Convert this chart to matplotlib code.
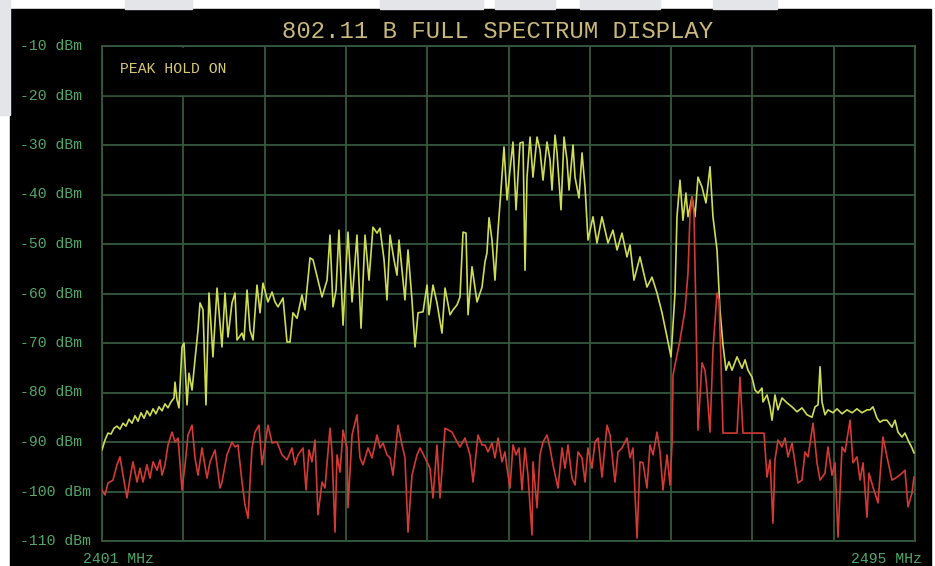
import numpy as np
import matplotlib
matplotlib.use("Agg")
import matplotlib.pyplot as plt
from matplotlib.patches import Rectangle
from matplotlib.transforms import blended_transform_factory

# ---------------- data ----------------
title_text = "802.11 B FULL SPECTRUM DISPLAY"
status_text = "PEAK HOLD ON"
freq_start_mhz = 2401
freq_stop_mhz = 2495
freq_labels = ["2401 MHz", "2495 MHz"]
level_ticks_dbm = [-10, -20, -30, -40, -50, -60, -70, -80, -90, -100, -110]
level_labels = [f"{v} dBm" for v in level_ticks_dbm]

# peak-hold trace (yellow)
peak_freq_mhz = [
    2401.00, 2401.35, 2401.69, 2402.04, 2402.39, 2402.73, 2403.08, 2403.43, 2403.77, 2404.12,
    2404.47, 2404.82, 2405.16, 2405.51, 2405.86, 2406.20, 2406.55, 2406.90, 2407.24, 2407.59,
    2407.94, 2408.28, 2408.63, 2408.98, 2409.32, 2409.44, 2409.67, 2409.90, 2410.25, 2410.48,
    2410.83, 2411.06, 2411.41, 2411.75, 2412.10, 2412.33, 2412.68, 2413.02, 2413.37, 2413.83,
    2414.30, 2414.87, 2415.22, 2415.57, 2416.03, 2416.38, 2416.61, 2417.19, 2417.42, 2417.77,
    2418.11, 2418.46, 2418.92, 2419.27, 2419.61, 2420.19, 2420.66, 2421.00, 2421.35, 2421.93,
    2422.39, 2422.74, 2423.08, 2423.55, 2424.12, 2424.47, 2425.05, 2425.40, 2425.97, 2426.44,
    2427.02, 2427.36, 2427.71, 2428.06, 2428.40, 2428.87, 2429.44, 2429.91, 2430.48, 2430.95,
    2431.41, 2431.87, 2432.33, 2432.80, 2433.14, 2433.61, 2433.95, 2434.30, 2434.76, 2435.11,
    2435.34, 2435.69, 2436.03, 2436.38, 2436.84, 2437.19, 2437.54, 2438.12, 2438.58, 2438.81,
    2439.27, 2439.73, 2440.31, 2440.66, 2441.24, 2441.58, 2442.05, 2442.39, 2442.74, 2443.09,
    2443.32, 2443.78, 2444.36, 2444.94, 2445.28, 2445.51, 2445.75, 2446.09, 2446.44, 2446.79,
    2447.13, 2447.48, 2447.83, 2448.17, 2448.52, 2448.87, 2449.33, 2449.68, 2449.91, 2450.14,
    2450.49, 2450.83, 2451.30, 2451.64, 2451.99, 2452.45, 2452.80, 2453.03, 2453.38, 2453.61,
    2454.07, 2454.42, 2454.76, 2455.00, 2455.46, 2455.69, 2456.15, 2456.50, 2456.85, 2457.19,
    2457.77, 2458.23, 2458.81, 2459.50, 2460.08, 2460.55, 2461.12, 2461.70, 2462.05, 2462.51,
    2463.20, 2464.01, 2464.59, 2465.17, 2465.75, 2466.33, 2466.79, 2467.25, 2467.48, 2467.83,
    2468.17, 2468.52, 2468.75, 2469.22, 2469.56, 2469.91, 2470.37, 2470.83, 2471.30, 2471.64,
    2472.11, 2472.45, 2472.80, 2473.15, 2473.49, 2473.84, 2474.42, 2475.00, 2475.35, 2475.69,
    2476.15, 2476.50, 2476.85, 2477.31, 2477.42, 2477.89, 2478.24, 2478.47, 2478.81, 2479.16,
    2479.62, 2480.20, 2480.78, 2481.36, 2481.93, 2482.51, 2483.09, 2483.44, 2483.79, 2484.02,
    2484.25, 2484.59, 2484.94, 2485.52, 2485.98, 2486.56, 2487.14, 2487.72, 2488.29, 2488.87,
    2489.45, 2489.80, 2490.14, 2490.61, 2490.95, 2491.30, 2491.76, 2492.34, 2492.69, 2493.03,
    2493.50, 2493.84, 2494.19, 2494.65, 2494.88,
]
peak_level_dbm = [
    -91.6, -89.6, -88.2, -88.4, -87.2, -86.8, -87.4, -86.2, -86.8, -85.4,
    -86.2, -84.7, -85.8, -84.1, -85.2, -83.7, -84.7, -83.3, -84.3, -82.9,
    -83.7, -82.3, -83.1, -81.9, -81.1, -77.9, -81.5, -83.1, -70.8, -70.0,
    -82.5, -76.1, -79.5, -73.4, -67.4, -61.9, -63.3, -82.5, -59.9, -72.8,
    -58.9, -70.8, -59.9, -68.8, -61.9, -59.9, -69.4, -68.0, -69.4, -59.3,
    -67.4, -69.4, -58.3, -63.9, -57.9, -61.7, -59.7, -61.7, -62.7, -60.9,
    -69.8, -69.8, -63.9, -65.0, -60.3, -63.3, -52.8, -53.2, -57.3, -60.7,
    -57.3, -48.2, -62.7, -59.3, -47.2, -66.4, -47.6, -61.7, -48.2, -67.0,
    -48.2, -57.3, -46.6, -47.8, -46.8, -53.2, -61.3, -48.2, -53.2, -56.3,
    -49.2, -55.3, -61.3, -51.2, -61.3, -70.8, -63.9, -63.7, -58.3, -64.3,
    -58.3, -61.9, -68.0, -58.9, -64.3, -63.3, -62.3, -60.7, -47.6, -47.8,
    -64.3, -54.6, -61.7, -58.7, -53.6, -51.8, -44.7, -49.2, -57.3, -47.2,
    -39.1, -30.4, -41.1, -35.1, -29.4, -43.1, -29.6, -29.4, -55.3, -36.5,
    -28.4, -36.5, -28.4, -31.0, -37.1, -29.4, -33.0, -39.1, -28.0, -31.6,
    -43.1, -28.4, -33.0, -39.1, -30.0, -36.5, -40.7, -31.6, -38.5, -49.2,
    -44.5, -49.8, -44.5, -49.8, -47.2, -51.2, -47.8, -52.6, -50.2, -57.3,
    -52.6, -58.7, -56.7, -59.9, -63.9, -68.8, -72.8, -59.9, -44.5, -37.1,
    -45.2, -39.7, -44.5, -40.5, -44.5, -36.5, -38.5, -41.7, -34.4, -44.5,
    -51.2, -63.3, -70.4, -75.5, -73.8, -75.5, -72.8, -75.1, -73.4, -75.5,
    -76.9, -79.5, -80.1, -79.1, -81.9, -80.5, -82.9, -85.6, -80.5, -83.5,
    -81.1, -82.1, -82.9, -83.9, -83.1, -84.5, -85.0, -82.9, -82.5, -74.8,
    -81.9, -84.5, -83.5, -84.1, -83.3, -84.3, -83.5, -84.1, -83.3, -84.1,
    -83.5, -83.5, -82.9, -85.2, -86.0, -85.6, -85.6, -87.0, -85.6, -88.0,
    -89.0, -88.2, -89.6, -91.2, -92.2,
]

# live trace (red)
live_freq_mhz = [
    2401.00, 2401.35, 2401.69, 2402.27, 2402.73, 2403.08, 2403.43, 2403.89, 2404.24, 2404.58,
    2405.05, 2405.39, 2405.74, 2406.20, 2406.55, 2406.90, 2407.36, 2407.71, 2407.94, 2408.28,
    2408.63, 2409.09, 2409.44, 2409.79, 2410.25, 2410.60, 2410.94, 2411.41, 2411.75, 2412.10,
    2412.56, 2413.14, 2413.49, 2414.07, 2414.64, 2414.87, 2415.45, 2416.03, 2416.38, 2416.72,
    2417.19, 2417.53, 2417.88, 2418.34, 2418.69, 2419.15, 2419.50, 2419.85, 2420.19, 2420.66,
    2421.23, 2421.81, 2422.39, 2422.97, 2423.31, 2423.66, 2424.24, 2424.59, 2424.93, 2425.28,
    2425.63, 2425.97, 2426.44, 2426.78, 2427.36, 2427.59, 2427.94, 2428.17, 2428.52, 2428.87,
    2429.33, 2429.44, 2429.91, 2430.48, 2430.83, 2431.18, 2431.76, 2432.22, 2432.80, 2433.14,
    2433.49, 2433.95, 2434.30, 2434.65, 2435.22, 2435.69, 2436.03, 2436.38, 2436.84, 2437.42,
    2437.77, 2438.35, 2438.92, 2439.27, 2439.73, 2440.08, 2440.66, 2441.47, 2442.05, 2442.39,
    2442.97, 2443.55, 2443.90, 2444.47, 2444.94, 2445.28, 2445.63, 2446.09, 2446.44, 2446.79,
    2447.25, 2447.59, 2447.83, 2448.17, 2448.52, 2448.87, 2449.21, 2449.56, 2449.91, 2450.25,
    2450.72, 2450.83, 2451.30, 2451.64, 2451.99, 2452.45, 2452.80, 2453.14, 2453.72, 2454.19,
    2454.53, 2454.88, 2455.34, 2455.69, 2456.04, 2456.50, 2456.85, 2457.19, 2457.65, 2458.00,
    2458.35, 2458.81, 2459.39, 2459.74, 2460.31, 2460.66, 2461.12, 2461.70, 2462.05, 2462.39,
    2462.86, 2463.20, 2463.55, 2464.01, 2464.36, 2464.71, 2465.17, 2465.52, 2465.86, 2466.33,
    2466.68, 2466.91, 2467.02, 2467.83, 2468.41, 2468.75, 2468.98, 2469.22, 2469.45, 2469.68,
    2469.91, 2470.37, 2470.72, 2470.95, 2471.30, 2471.64, 2472.11, 2472.34, 2472.57, 2472.80,
    2474.42, 2474.77, 2475.11, 2477.54, 2477.89, 2478.24, 2478.58, 2478.81, 2479.16, 2479.62,
    2479.97, 2480.32, 2480.78, 2481.12, 2481.47, 2481.93, 2482.28, 2482.63, 2483.21, 2483.67,
    2484.02, 2484.59, 2484.94, 2485.40, 2485.75, 2486.10, 2486.56, 2486.91, 2487.49, 2487.83,
    2488.29, 2488.64, 2488.99, 2489.45, 2489.68, 2490.14, 2490.72, 2491.30, 2491.76, 2492.34,
    2492.92, 2493.50, 2493.84, 2494.19, 2494.65, 2494.88,
]
live_level_dbm = [
    -99.7, -100.7, -98.3, -97.7, -94.6, -93.0, -96.7, -101.3, -97.3, -94.0,
    -98.1, -95.3, -98.1, -94.6, -97.3, -94.0, -95.7, -93.6, -96.7, -94.6,
    -90.6, -88.0, -90.0, -89.2, -99.7, -94.6, -88.6, -86.6, -93.2, -96.7,
    -91.2, -97.3, -94.0, -91.6, -99.3, -98.1, -92.6, -90.0, -91.0, -90.6,
    -98.1, -102.7, -105.4, -91.2, -88.0, -86.6, -94.6, -90.6, -86.6, -90.2,
    -90.0, -92.6, -93.6, -91.2, -94.6, -92.6, -91.2, -99.7, -91.6, -94.0,
    -89.6, -104.7, -98.1, -99.3, -87.2, -92.0, -108.2, -92.6, -96.1, -87.6,
    -91.2, -103.3, -88.6, -84.5, -93.2, -94.6, -91.2, -93.2, -88.6, -91.2,
    -90.2, -92.6, -93.2, -96.7, -86.6, -90.6, -93.2, -108.2, -96.7, -92.6,
    -91.2, -93.2, -95.3, -101.3, -90.6, -101.3, -87.2, -88.0, -90.0, -91.0,
    -89.2, -92.6, -98.1, -88.6, -90.6, -90.6, -92.0, -90.2, -93.2, -89.2,
    -94.0, -92.0, -95.3, -99.3, -90.6, -92.6, -91.2, -99.7, -91.2, -96.7,
    -108.8, -94.0, -103.3, -92.6, -90.0, -88.6, -91.2, -94.6, -99.3, -91.2,
    -95.3, -90.6, -97.3, -98.7, -92.0, -93.2, -98.1, -91.2, -95.3, -90.0,
    -89.2, -97.1, -86.6, -88.6, -98.1, -92.0, -91.2, -89.2, -93.2, -91.2,
    -109.4, -94.0, -94.2, -99.3, -90.6, -92.6, -88.0, -92.0, -99.7, -92.6,
    -98.7, -90.2, -76.5, -69.4, -63.3, -55.9, -44.5, -40.5, -44.1, -64.7,
    -87.6, -74.0, -75.5, -79.5, -88.0, -71.4, -59.9, -61.3, -74.0, -88.2,
    -88.2, -76.9, -88.2, -88.2, -97.1, -93.6, -106.4, -93.6, -89.6, -91.0,
    -89.2, -93.0, -90.2, -94.2, -98.3, -97.7, -92.0, -93.0, -86.2, -94.2,
    -97.7, -96.3, -91.0, -96.7, -94.2, -109.2, -91.0, -92.0, -85.6, -94.2,
    -93.0, -97.7, -94.2, -105.2, -96.3, -99.1, -102.3, -89.0, -93.0, -97.7,
    -97.1, -96.3, -95.7, -103.1, -100.3, -97.1,
]

# ---------------- styling ----------------
W, H = 935, 566
grid_green = "#35593b"
label_green = "#4fa86a"
title_tan = "#c9b87c"
status_yellow = "#d6c978"
peak_yellow = "#cfdc55"
live_red = "#d23a36"
mono = ["Liberation Mono", "DejaVu Sans Mono"]

fig = plt.figure(figsize=(W / 100, H / 100), dpi=100, facecolor="white")

# page backdrop: dark instrument panel and light strips above it
fig.patches.append(Rectangle((10 / W, 0), (931 - 10) / W, (H - 9) / H,
                             transform=fig.transFigure, color="black", zorder=-2))
for x0, x1 in [(125, 192), (380, 483), (495, 555), (580, 660), (713, 777)]:
    fig.patches.append(Rectangle((x0 / W, 1 - 9 / H), (x1 - x0) / W, 9 / H,
                                 transform=fig.transFigure, color="#e4e5e8", zorder=-2))
fig.patches.append(Rectangle((0, 1 - 115 / H), 10 / W, 115 / H,
                             transform=fig.transFigure, color="#e4e5e8", zorder=-2))

ax = fig.add_axes([102 / W, 1 - 541 / H, 813 / W, 495 / H], zorder=1)
ax.set_facecolor("black")
ax.set_xlim(freq_start_mhz, freq_stop_mhz)
ax.set_ylim(min(level_ticks_dbm), max(level_ticks_dbm))
ax.set_xticks(np.linspace(freq_start_mhz, freq_stop_mhz, 11))
ax.set_yticks(level_ticks_dbm)
ax.tick_params(length=0, labelbottom=False, labelleft=False)
ax.set_axisbelow(True)
ax.grid(True, color=grid_green, lw=1.3)
for s in ax.spines.values():
    s.set_color(grid_green)
    s.set_linewidth(1.3)

# traces
ax.plot(peak_freq_mhz, peak_level_dbm, color=peak_yellow, lw=1.2, zorder=3)
ax.plot(live_freq_mhz, live_level_dbm, color=live_red, lw=1.2, zorder=4)

# status box masks the grid behind it
ax.add_patch(Rectangle((0.003, 0.903), 0.194, 0.093, transform=ax.transAxes,
                       color="black", zorder=1))
ax.text(0.022, 0.953, status_text, transform=ax.transAxes, color=status_yellow,
        fontsize=10.6, family=mono, va="center", ha="left", zorder=5)

# level labels on the left
tr = blended_transform_factory(fig.transFigure, ax.transData)
for v, lab in zip(level_ticks_dbm, level_labels):
    ax.text(20 / W, v, lab, transform=tr, color=label_green, fontsize=10.6,
            family=mono, va="center", ha="left", clip_on=False)

# frequency span labels
fig.text(83 / W, 1 - 559 / H, freq_labels[0], color=label_green, fontsize=10.6,
         family=mono, va="center", ha="left")
fig.text(922 / W, 1 - 559 / H, freq_labels[1], color=label_green, fontsize=10.6,
         family=mono, va="center", ha="right")

fig.text(498 / W, 1 - 32 / H, title_text, color=title_tan, fontsize=17.2,
         family=mono, va="center", ha="center")

fig.savefig("out.png", dpi=100, facecolor=fig.get_facecolor())
